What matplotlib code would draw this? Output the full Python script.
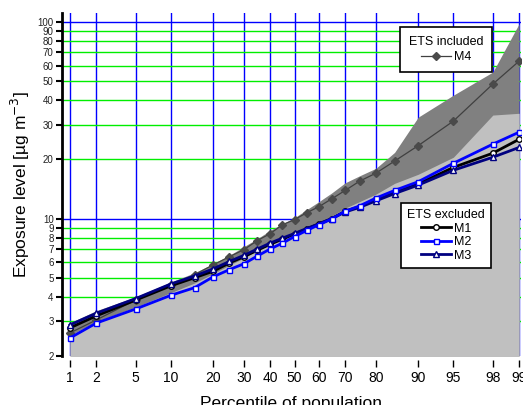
import numpy as np
import matplotlib
matplotlib.use('Agg')
import matplotlib.pyplot as plt
from statistics import NormalDist

plt.rcParams['font.family'] = ['Liberation Sans', 'DejaVu Sans']

pct = [1, 2, 5, 10, 15, 20, 25, 30, 35, 40, 45, 50, 55, 60, 65, 70, 75, 80, 85, 90, 95, 98, 99]

m1 = [2.78, 3.2, 3.85, 4.55, 5.0, 5.4, 5.95, 6.4, 6.9, 7.4, 7.85, 8.35, 8.85, 9.4, 10.0, 10.9,
      11.5, 12.5, 13.6, 15.0, 18.2, 21.5, 25.3]
m2 = [2.47, 2.94, 3.47, 4.07, 4.45, 5.06, 5.5, 5.89, 6.45, 7.0, 7.5, 8.1, 8.7, 9.3, 9.95, 10.9,
      11.6, 12.7, 13.9, 15.4, 19.1, 23.9, 27.5]
m3 = [2.88, 3.3, 3.92, 4.65, 5.1, 5.55, 6.05, 6.5, 7.0, 7.5, 7.95, 8.4, 8.9, 9.4, 10.0, 10.8,
      11.4, 12.3, 13.4, 14.8, 17.6, 20.5, 23.0]
m4 = [2.62, 3.05, 3.86, 4.58, 5.18, 5.82, 6.4, 6.95, 7.73, 8.38, 9.3, 9.88, 10.7, 11.5, 12.6, 13.9,
      15.5, 17.0, 19.6, 23.5, 31.3, 48.3, 63.2]

# upper edges of the two shaded ranges
incl_hi = [2.95, 3.4, 4.0, 4.75, 5.3, 5.9, 6.5, 7.2, 7.9, 8.7, 9.4, 10.1, 11.1, 12.2, 13.5, 15.2,
           16.5, 18.0, 21.7, 32.8, 42.4, 55.6, 98.0]
excl_hi = [2.55, 3.0, 3.55, 4.2, 4.7, 5.25, 5.8, 6.3, 6.9, 7.4, 7.9, 8.4, 9.0, 9.6, 10.3, 11.3,
           12.2, 13.3, 15.1, 16.8, 20.5, 33.6, 34.3]

xticks = [1, 2, 5, 10, 20, 30, 40, 50, 60, 70, 80, 90, 95, 98, 99]
yticks = [2, 3, 4, 5, 6, 7, 8, 9, 10, 20, 30, 40, 50, 60, 70, 80, 90, 100]

nd = NormalDist()


def fwd(p):
    p = np.clip(np.asarray(p, dtype=float) / 100.0, 1e-9, 1 - 1e-9)
    return np.vectorize(nd.inv_cdf, otypes=[float])(p)


def inv(z):
    return np.vectorize(nd.cdf, otypes=[float])(np.asarray(z, dtype=float)) * 100.0


fig = plt.figure(figsize=(5.23, 4.05), dpi=100)
ax = fig.add_axes([62 / 523, 49 / 405, 459 / 523, 343 / 405])
ax.set_xscale('function', functions=(fwd, inv))
ax.set_yscale('log')
ax.set_xlim(0.80, 99.05)
ax.set_ylim(2, 111)

# grid
for t in xticks:
    ax.axvline(t, color='#0000ff', lw=1.0, zorder=0.5)
for t in yticks[1:]:
    c = '#0000ff' if t in (10, 100) else '#00ee00'
    ax.axhline(t, color=c, lw=1.0, zorder=0.5)

# shaded ranges
ax.fill_between(pct, 2, incl_hi, color='#808080', lw=0, zorder=1)
ax.fill_between(pct, 2, excl_hi, color='#c0c0c0', lw=0, zorder=1.1)

l4, = ax.plot(pct, m4, color='#404040', lw=0.9, marker='D', ms=4.5,
              mfc='#4a4a4a', mec='#4a4a4a', zorder=3, label='M4')
l1, = ax.plot(pct, m1, color='black', lw=2, marker='o', ms=4,
              mfc='white', mec='black', mew=1, zorder=4, label='M1')
l3, = ax.plot(pct, m3, color='#000080', lw=2, marker='^', ms=4,
              mfc='white', mec='#000080', mew=1, zorder=4, label='M3')
l2, = ax.plot(pct, m2, color='#0000ff', lw=2, marker='s', ms=3.6,
              mfc='white', mec='#0000ff', mew=1, zorder=5, label='M2')

ax.set_xticks(xticks)
ax.set_xticklabels([str(t) for t in xticks], fontsize=10.5)
ax.xaxis.set_minor_locator(matplotlib.ticker.NullLocator())
ax.set_yticks(yticks)
ax.set_yticklabels([str(t) for t in yticks], fontsize=7, color='#222222')
ax.yaxis.set_minor_locator(matplotlib.ticker.NullLocator())

for s in ['top', 'right']:
    ax.spines[s].set_visible(False)
ax.spines['bottom'].set_position(('outward', 3))
ax.spines['bottom'].set_visible(False)
ax.spines['left'].set_linewidth(2)
ax.tick_params(axis='y', direction='out', length=4, width=1.5, pad=2)
ax.tick_params(axis='x', direction='out', length=5, width=1, pad=3)

ax.set_ylabel('Exposure level [µg m$^{-3}$]', fontsize=12.5, labelpad=4)
ax.set_xlabel('Percentile of population', fontsize=12.5, labelpad=8)

legkw = dict(loc='upper left', bbox_transform=fig.transFigure, fontsize=9,
             title_fontsize=9, fancybox=False, framealpha=1, edgecolor='black',
             handlelength=2.4, handletextpad=0.25, borderaxespad=0)

leg1 = ax.legend(handles=[l4], title='ETS included',
                 bbox_to_anchor=(400 / 523, 1 - 27 / 405),
                 borderpad=0.7, labelspacing=0.3, **legkw)
leg1.get_frame().set_linewidth(1.2)
leg1.set_zorder(10)
ax.add_artist(leg1)

leg2 = ax.legend(handles=[l1, l2, l3], title='ETS excluded',
                 bbox_to_anchor=(401 / 523, 1 - 203 / 405),
                 borderpad=0.5, labelspacing=0.12, **legkw)
leg2.get_frame().set_linewidth(1.2)
leg2.set_zorder(10)

fig.savefig('out.png', dpi=100)
